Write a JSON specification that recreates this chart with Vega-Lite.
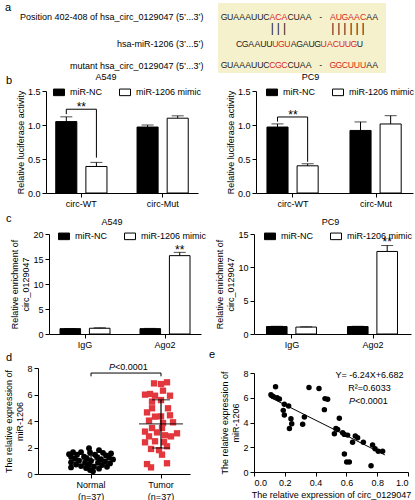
{
"$schema":"https://vega.github.io/schema/vega-lite/v6.json",
"padding":{"left":4,"top":2,"right":0,"bottom":0},
"spacing":0,
"config":{
 "font":"Liberation Sans",
 "view":{"stroke":null},
 "axis":{"labelFont":"Liberation Sans","titleFont":"Liberation Sans","labelFontSize":9,"titleFontSize":9,"labelColor":"#000","titleColor":"#000","domainColor":"#000","tickColor":"#000","grid":false,"titleFontWeight":"normal","tickSize":4,"labelPadding":2,"titlePadding":2,"labelOverlap":false,"labelLimit":400},
 "legend":{"labelFont":"Liberation Sans","labelFontSize":9,"labelColor":"#000"},
 "title":{"font":"Liberation Sans","fontSize":9,"fontWeight":"normal","color":"#000","baseline":"alphabetic"},
 "text":{"font":"Liberation Sans","color":"#000"}
},
"datasets":{
 "seq":[
  {"ln":"l1","col":0,"ch":"G","hl":"n"},{"ln":"l1","col":1,"ch":"U","hl":"n"},{"ln":"l1","col":2,"ch":"A","hl":"n"},{"ln":"l1","col":3,"ch":"A","hl":"n"},{"ln":"l1","col":4,"ch":"A","hl":"n"},{"ln":"l1","col":5,"ch":"U","hl":"n"},{"ln":"l1","col":6,"ch":"U","hl":"n"},{"ln":"l1","col":7,"ch":"C","hl":"n"},{"ln":"l1","col":8,"ch":"A","hl":"r"},{"ln":"l1","col":9,"ch":"C","hl":"r"},{"ln":"l1","col":10,"ch":"A","hl":"r"},{"ln":"l1","col":11,"ch":"C","hl":"n"},{"ln":"l1","col":12,"ch":"U","hl":"n"},{"ln":"l1","col":13,"ch":"A","hl":"n"},{"ln":"l1","col":14,"ch":"A","hl":"n"},{"ln":"l1","col":16,"ch":"-","hl":"n"},{"ln":"l1","col":18,"ch":"A","hl":"r"},{"ln":"l1","col":19,"ch":"U","hl":"r"},{"ln":"l1","col":20,"ch":"G","hl":"r"},{"ln":"l1","col":21,"ch":"A","hl":"r"},{"ln":"l1","col":22,"ch":"A","hl":"r"},{"ln":"l1","col":23,"ch":"C","hl":"r"},{"ln":"l1","col":24,"ch":"A","hl":"n"},{"ln":"l1","col":25,"ch":"A","hl":"n"},
  {"ln":"l3","col":2.5,"ch":"C","hl":"n"},{"ln":"l3","col":3.5,"ch":"G","hl":"n"},{"ln":"l3","col":4.5,"ch":"A","hl":"n"},{"ln":"l3","col":5.5,"ch":"A","hl":"n"},{"ln":"l3","col":6.5,"ch":"U","hl":"n"},{"ln":"l3","col":7.5,"ch":"U","hl":"n"},{"ln":"l3","col":8.5,"ch":"U","hl":"r"},{"ln":"l3","col":9.5,"ch":"G","hl":"r"},{"ln":"l3","col":10.5,"ch":"U","hl":"r"},{"ln":"l3","col":11.5,"ch":"A","hl":"n"},{"ln":"l3","col":12.5,"ch":"G","hl":"n"},{"ln":"l3","col":13.5,"ch":"A","hl":"n"},{"ln":"l3","col":14.5,"ch":"U","hl":"n"},{"ln":"l3","col":15.5,"ch":"G","hl":"n"},{"ln":"l3","col":16.5,"ch":"U","hl":"r"},{"ln":"l3","col":17.5,"ch":"A","hl":"r"},{"ln":"l3","col":18.5,"ch":"C","hl":"r"},{"ln":"l3","col":19.5,"ch":"U","hl":"r"},{"ln":"l3","col":20.5,"ch":"U","hl":"r"},{"ln":"l3","col":21.5,"ch":"G","hl":"r"},{"ln":"l3","col":22.5,"ch":"U","hl":"n"},
  {"ln":"l4","col":0,"ch":"G","hl":"n"},{"ln":"l4","col":1,"ch":"U","hl":"n"},{"ln":"l4","col":2,"ch":"A","hl":"n"},{"ln":"l4","col":3,"ch":"A","hl":"n"},{"ln":"l4","col":4,"ch":"A","hl":"n"},{"ln":"l4","col":5,"ch":"U","hl":"n"},{"ln":"l4","col":6,"ch":"U","hl":"n"},{"ln":"l4","col":7,"ch":"C","hl":"n"},{"ln":"l4","col":8,"ch":"C","hl":"r"},{"ln":"l4","col":9,"ch":"G","hl":"r"},{"ln":"l4","col":10,"ch":"C","hl":"r"},{"ln":"l4","col":11,"ch":"C","hl":"n"},{"ln":"l4","col":12,"ch":"U","hl":"n"},{"ln":"l4","col":13,"ch":"A","hl":"n"},{"ln":"l4","col":14,"ch":"A","hl":"n"},{"ln":"l4","col":16,"ch":"-","hl":"n"},{"ln":"l4","col":18,"ch":"G","hl":"r"},{"ln":"l4","col":19,"ch":"G","hl":"r"},{"ln":"l4","col":20,"ch":"C","hl":"r"},{"ln":"l4","col":21,"ch":"U","hl":"r"},{"ln":"l4","col":22,"ch":"U","hl":"r"},{"ln":"l4","col":23,"ch":"U","hl":"r"},{"ln":"l4","col":24,"ch":"A","hl":"n"},{"ln":"l4","col":25,"ch":"A","hl":"n"}
 ],
 "pairs":[{"ln":"bars","col":8,"ch":"|"},{"ln":"bars","col":9,"ch":"|"},{"ln":"bars","col":10,"ch":"|"},{"ln":"bars","col":18,"ch":"|"},{"ln":"bars","col":19,"ch":"|"},{"ln":"bars","col":20,"ch":"|"},{"ln":"bars","col":21,"ch":"|"},{"ln":"bars","col":22,"ch":"|"},{"ln":"bars","col":23,"ch":"|"}],
 "bLv":[{"g":"circ-WT","t":"miR-NC","v":1.05,"hi":1.12},{"g":"circ-WT","t":"miR-1206 mimic","v":0.39,"hi":0.45},{"g":"circ-Mut","t":"miR-NC","v":0.97,"hi":1.0},{"g":"circ-Mut","t":"miR-1206 mimic","v":1.1,"hi":1.135}],
 "bLbr":[{"g":"circ-WT","t":"miR-NC","y":1.16,"o":1},{"g":"circ-WT","t":"miR-NC","y":1.232,"o":2},{"g":"circ-WT","t":"miR-1206 mimic","y":1.232,"o":3},{"g":"circ-WT","t":"miR-1206 mimic","y":0.52,"o":4}],
 "bLst":[{"g":"circ-WT","y":1.232}],
 "bRv":[{"g":"circ-WT","t":"miR-NC","v":0.97,"hi":1.016},{"g":"circ-WT","t":"miR-1206 mimic","v":0.4,"hi":0.43},{"g":"circ-Mut","t":"miR-NC","v":0.92,"hi":1.045},{"g":"circ-Mut","t":"miR-1206 mimic","v":1.015,"hi":1.137}],
 "bRbr":[{"g":"circ-WT","t":"miR-NC","y":1.05,"o":1},{"g":"circ-WT","t":"miR-NC","y":1.118,"o":2},{"g":"circ-WT","t":"miR-1206 mimic","y":1.118,"o":3},{"g":"circ-WT","t":"miR-1206 mimic","y":0.46,"o":4}],
 "bRst":[{"g":"circ-WT","y":1.118}],
 "cLv":[{"g":"IgG","t":"miR-NC","v":1.07,"hi":1.12},{"g":"IgG","t":"miR-1206 mimic","v":1.15,"hi":1.25},{"g":"Ago2","t":"miR-NC","v":1.07,"hi":1.12},{"g":"Ago2","t":"miR-1206 mimic","v":15.67,"hi":16.33}],
 "cLst":[{"g":"Ago2","t":"miR-1206 mimic","y":16.33}],
 "cRv":[{"g":"IgG","t":"miR-NC","v":1.12,"hi":1.16},{"g":"IgG","t":"miR-1206 mimic","v":1.04,"hi":1.08},{"g":"Ago2","t":"miR-NC","v":1.12,"hi":1.16},{"g":"Ago2","t":"miR-1206 mimic","v":12.38,"hi":13.27}],
 "cRst":[{"g":"Ago2","t":"miR-1206 mimic","y":13.27}],
 "dN":[{"grp":"Normal","jit":-2,"v":1.95},{"grp":"Normal","jit":8,"v":1.8},{"grp":"Normal","jit":-18,"v":1.65},{"grp":"Normal","jit":-10,"v":1.65},{"grp":"Normal","jit":-1,"v":1.62},{"grp":"Normal","jit":12,"v":1.6},{"grp":"Normal","jit":20,"v":1.55},{"grp":"Normal","jit":-22,"v":1.5},{"grp":"Normal","jit":-14,"v":1.45},{"grp":"Normal","jit":4,"v":1.45},{"grp":"Normal","jit":15,"v":1.4},{"grp":"Normal","jit":-20,"v":1.3},{"grp":"Normal","jit":-7,"v":1.3},{"grp":"Normal","jit":6,"v":1.28},{"grp":"Normal","jit":18,"v":1.25},{"grp":"Normal","jit":-16,"v":1.15},{"grp":"Normal","jit":-4,"v":1.15},{"grp":"Normal","jit":10,"v":1.12},{"grp":"Normal","jit":22,"v":1.1},{"grp":"Normal","jit":-12,"v":1.0},{"grp":"Normal","jit":0,"v":0.98},{"grp":"Normal","jit":14,"v":0.95},{"grp":"Normal","jit":-20,"v":0.88},{"grp":"Normal","jit":-6,"v":0.85},{"grp":"Normal","jit":7,"v":0.85},{"grp":"Normal","jit":19,"v":0.8},{"grp":"Normal","jit":-15,"v":0.72},{"grp":"Normal","jit":-2,"v":0.7},{"grp":"Normal","jit":11,"v":0.68},{"grp":"Normal","jit":-10,"v":0.6},{"grp":"Normal","jit":3,"v":0.55},{"grp":"Normal","jit":16,"v":0.55},{"grp":"Normal","jit":-20,"v":0.5},{"grp":"Normal","jit":-5,"v":0.45},{"grp":"Normal","jit":8,"v":0.4},{"grp":"Normal","jit":-1,"v":0.3},{"grp":"Normal","jit":2,"v":0.2}],
 "dT":[{"grp":"Tumor","jit":-7,"v":6.84},{"grp":"Tumor","jit":0,"v":6.79},{"grp":"Tumor","jit":6,"v":6.92},{"grp":"Tumor","jit":2,"v":6.29},{"grp":"Tumor","jit":-16,"v":5.99},{"grp":"Tumor","jit":-11,"v":6.04},{"grp":"Tumor","jit":-6,"v":5.91},{"grp":"Tumor","jit":9,"v":5.91},{"grp":"Tumor","jit":-9,"v":5.46},{"grp":"Tumor","jit":0,"v":5.58},{"grp":"Tumor","jit":-9,"v":4.96},{"grp":"Tumor","jit":7,"v":4.96},{"grp":"Tumor","jit":-14,"v":4.65},{"grp":"Tumor","jit":-6,"v":4.33},{"grp":"Tumor","jit":0,"v":4.35},{"grp":"Tumor","jit":9,"v":4.43},{"grp":"Tumor","jit":-12,"v":4.03},{"grp":"Tumor","jit":2,"v":3.85},{"grp":"Tumor","jit":12,"v":3.9},{"grp":"Tumor","jit":-9,"v":3.47},{"grp":"Tumor","jit":1,"v":3.47},{"grp":"Tumor","jit":-16,"v":3.2},{"grp":"Tumor","jit":-4,"v":3.14},{"grp":"Tumor","jit":16,"v":3.07},{"grp":"Tumor","jit":-12,"v":2.84},{"grp":"Tumor","jit":4,"v":2.92},{"grp":"Tumor","jit":10,"v":2.84},{"grp":"Tumor","jit":-6,"v":2.47},{"grp":"Tumor","jit":3,"v":2.4},{"grp":"Tumor","jit":-16,"v":2.39},{"grp":"Tumor","jit":6,"v":2.09},{"grp":"Tumor","jit":-10,"v":1.89},{"grp":"Tumor","jit":-2,"v":1.8},{"grp":"Tumor","jit":1,"v":1.46},{"grp":"Tumor","jit":-14,"v":0.75},{"grp":"Tumor","jit":6,"v":0.81},{"grp":"Tumor","jit":-10,"v":0.5}],
 "dsum":[{"grp":"Normal","m":1.06,"lo":0.72,"hi":1.4},{"grp":"Tumor","m":3.78,"lo":1.96,"hi":5.6}],
 "dbr":[{"grp":"Normal","y":7.37,"o":1},{"grp":"Normal","y":7.62,"o":2},{"grp":"Tumor","y":7.62,"o":3},{"grp":"Tumor","y":7.37,"o":4}],
 "epts":[{"x":0.11,"y":6.25},{"x":0.125,"y":6.1},{"x":0.15,"y":6.0},{"x":0.165,"y":5.9},{"x":0.14,"y":6.88},{"x":0.197,"y":5.47},{"x":0.19,"y":4.98},{"x":0.197,"y":4.61},{"x":0.225,"y":5.34},{"x":0.24,"y":4.31},{"x":0.23,"y":3.52},{"x":0.245,"y":3.9},{"x":0.316,"y":3.85},{"x":0.327,"y":4.44},{"x":0.357,"y":6.83},{"x":0.422,"y":6.75},{"x":0.457,"y":5.04},{"x":0.461,"y":5.93},{"x":0.478,"y":5.88},{"x":0.554,"y":4.34},{"x":0.522,"y":3.09},{"x":0.532,"y":3.52},{"x":0.543,"y":3.44},{"x":0.576,"y":3.17},{"x":0.587,"y":3.04},{"x":0.608,"y":2.98},{"x":0.64,"y":2.41},{"x":0.658,"y":2.9},{"x":0.673,"y":2.76},{"x":0.587,"y":1.46},{"x":0.602,"y":0.81},{"x":0.619,"y":0.81},{"x":0.76,"y":0.51},{"x":0.71,"y":2.41},{"x":0.77,"y":2.19},{"x":0.786,"y":1.87},{"x":0.807,"y":1.68},{"x":0.835,"y":1.68}],
 "eline":[{"x":0.1,"y":6.06},{"x":0.85,"y":1.38}]
},
"vconcat":[
 {
  "bounds":"flush","spacing":179,
  "title":{"text":"a","anchor":"start","frame":"group","dx":-33,"dy":10,"offset":0,"fontSize":11},
  "hconcat":[
   {"width":1,"height":70,"data":{"values":[]},"mark":"point"},
   {"width":168,"height":70,"view":{"fill":"#f6f1cd","stroke":null},
    "layer":[
     {"data":{"name":"seq"},"mark":{"type":"text","fontSize":8.7,"baseline":"middle"},
      "encoding":{
       "x":{"field":"col","type":"quantitative","scale":{"domain":[-1,26.8],"nice":false,"zero":false},"axis":null},
       "y":{"field":"ln","type":"ordinal","scale":{"type":"point","domain":["l1","g1","bars","g2","g3","l3","g4","g5","g6","l4"],"range":[11,65]},"axis":{"title":null,"values":["l1","l3","l4"],"labelExpr":"datum.value == 'l1' ? 'Position 402-408 of hsa_circ_0129047 (5’...3’)' : datum.value == 'l3' ? 'hsa-miR-1206 (3’...5’)' : datum.value == 'l4' ? 'mutant hsa_circ_0129047 (5’...3’)' : ''","ticks":false,"domain":false,"labelPadding":15,"labelOverlap":false,"labelLimit":400}},
       "text":{"field":"ch"},
       "color":{"field":"hl","type":"nominal","scale":{"domain":["n","r"],"range":["#1a1a1a","#d8261d"]},"legend":null}
      }},
     {"data":{"name":"pairs"},"mark":{"type":"text","fontSize":12,"baseline":"middle","color":"#1a1a1a"},
      "encoding":{"x":{"field":"col","type":"quantitative"},"y":{"field":"ln","type":"ordinal"},"text":{"field":"ch"}}}
    ]}
  ]
 },
 {
  "bounds":"flush","spacing":7,
  "resolve":{"scale":{"fill":"independent","x":"independent","y":"independent"},"legend":{"fill":"independent"}},
  "title":{"text":"b","anchor":"start","frame":"group","dx":-32,"dy":13,"offset":0,"fontSize":11},
  "hconcat":[
   {"width":1,"height":122,"data":{"values":[]},"mark":"point"},
   {"width":152,"height":102,
    "title":{"text":"A549","dx":-16,"offset":4},
    "resolve":{"axis":{"y":"independent"}},
    "encoding":{"x":{"field":"g","type":"nominal","scale":{"domain":["circ-WT","circ-Mut"],"paddingInner":0.37,"paddingOuter":0.12},"axis":{"title":null,"labelAngle":0,"labelOverlap":false}}},
    "layer":[
     {"data":{"name":"bLv"},"mark":{"type":"bar","stroke":"#000","strokeWidth":1},
      "encoding":{
       "xOffset":{"field":"t","type":"nominal","scale":{"domain":["miR-NC","miR-1206 mimic"],"paddingInner":0.3,"paddingOuter":0}},
       "y":{"field":"v","type":"quantitative","title":"Relative luciferase activity","scale":{"domain":[0,1.5],"nice":false},"axis":{"values":[0,0.5,1,1.5],"format":".1f","labelOverlap":false}},
       "fill":{"field":"t","type":"nominal","scale":{"domain":["miR-NC","miR-1206 mimic"],"range":["#000000","#ffffff"]},"legend":{"orient":"none","legendX":7,"legendY":-5,"direction":"horizontal","title":null,"symbolType":"M-1,-0.6H1V0.6H-1Z","symbolSize":121,"symbolStrokeColor":"#000","symbolStrokeWidth":1,"labelOffset":5,"columnPadding":15,"padding":0}}}},
     {"data":{"name":"bLv"},"mark":{"type":"rule","color":"#000","strokeWidth":1},
      "encoding":{"xOffset":{"field":"t","type":"nominal"},"y":{"field":"v","type":"quantitative","axis":null},"y2":{"field":"hi"}}},
     {"data":{"name":"bLv"},"mark":{"type":"tick","color":"#000","size":12,"thickness":1},
      "encoding":{"xOffset":{"field":"t","type":"nominal"},"y":{"field":"hi","type":"quantitative","axis":null}}},
     {"data":{"name":"bLbr"},"mark":{"type":"line","color":"#000","strokeWidth":1},
      "encoding":{"xOffset":{"field":"t","type":"nominal"},"y":{"field":"y","type":"quantitative","axis":null},"order":{"field":"o","type":"quantitative"}}},
     {"data":{"name":"bLst"},"mark":{"type":"text","text":"**","fontSize":12,"baseline":"alphabetic","dy":2},
      "encoding":{"y":{"field":"y","type":"quantitative","axis":null}}}
    ]},
   {"width":44,"height":1,"data":{"values":[]},"mark":"point"},
   {"width":157,"height":102,
    "title":{"text":"PC9","dx":-24,"offset":4},
    "resolve":{"axis":{"y":"independent"}},
    "encoding":{"x":{"field":"g","type":"nominal","scale":{"domain":["circ-WT","circ-Mut"],"paddingInner":0.373,"paddingOuter":0.132},"axis":{"title":null,"labelAngle":0,"labelOverlap":false}}},
    "layer":[
     {"data":{"name":"bRv"},"mark":{"type":"bar","stroke":"#000","strokeWidth":1},
      "encoding":{
       "xOffset":{"field":"t","type":"nominal","scale":{"domain":["miR-NC","miR-1206 mimic"],"paddingInner":0.3,"paddingOuter":0}},
       "y":{"field":"v","type":"quantitative","title":"Relative luciferase activity","scale":{"domain":[0,1.5],"nice":false},"axis":{"values":[0,0.5,1,1.5],"format":".1f","labelOverlap":false}},
       "fill":{"field":"t","type":"nominal","scale":{"domain":["miR-NC","miR-1206 mimic"],"range":["#000000","#ffffff"]},"legend":{"orient":"none","legendX":10,"legendY":-5,"direction":"horizontal","title":null,"symbolType":"M-1,-0.6H1V0.6H-1Z","symbolSize":121,"symbolStrokeColor":"#000","symbolStrokeWidth":1,"labelOffset":5,"columnPadding":15,"padding":0}}}},
     {"data":{"name":"bRv"},"mark":{"type":"rule","color":"#000","strokeWidth":1},
      "encoding":{"xOffset":{"field":"t","type":"nominal"},"y":{"field":"v","type":"quantitative","axis":null},"y2":{"field":"hi"}}},
     {"data":{"name":"bRv"},"mark":{"type":"tick","color":"#000","size":12,"thickness":1},
      "encoding":{"xOffset":{"field":"t","type":"nominal"},"y":{"field":"hi","type":"quantitative","axis":null}}},
     {"data":{"name":"bRbr"},"mark":{"type":"line","color":"#000","strokeWidth":1},
      "encoding":{"xOffset":{"field":"t","type":"nominal"},"y":{"field":"y","type":"quantitative","axis":null},"order":{"field":"o","type":"quantitative"}}},
     {"data":{"name":"bRst"},"mark":{"type":"text","text":"**","fontSize":12,"baseline":"alphabetic","dy":2},
      "encoding":{"y":{"field":"y","type":"quantitative","axis":null}}}
    ]}
  ]
 },
 {
  "bounds":"flush","spacing":7,
  "resolve":{"scale":{"fill":"independent","x":"independent","y":"independent"},"legend":{"fill":"independent"}},
  "title":{"text":"c","anchor":"start","frame":"group","dx":-32,"dy":6,"offset":0,"fontSize":11},
  "hconcat":[
   {"width":4,"height":114,"data":{"values":[]},"mark":"point"},
   {"width":152,"height":100,
    "title":{"text":"A549","dx":-13,"offset":3},
    "resolve":{"axis":{"y":"independent"}},
    "encoding":{"x":{"field":"g","type":"nominal","scale":{"domain":["IgG","Ago2"],"paddingInner":0.375,"paddingOuter":0.1375},"axis":{"title":null,"labelAngle":0,"labelOverlap":false}}},
    "layer":[
     {"data":{"name":"cLv"},"mark":{"type":"bar","stroke":"#000","strokeWidth":1},
      "encoding":{
       "xOffset":{"field":"t","type":"nominal","scale":{"domain":["miR-NC","miR-1206 mimic"],"paddingInner":0.3,"paddingOuter":0}},
       "y":{"field":"v","type":"quantitative","title":["Relative enrichment of","circ_0129047"],"scale":{"domain":[0,20],"nice":false},"axis":{"values":[0,5,10,15,20],"labelOverlap":false}},
       "fill":{"field":"t","type":"nominal","scale":{"domain":["miR-NC","miR-1206 mimic"],"range":["#000000","#ffffff"]},"legend":{"orient":"none","legendX":9,"legendY":-4,"direction":"horizontal","title":null,"symbolType":"M-1,-0.6H1V0.6H-1Z","symbolSize":121,"symbolStrokeColor":"#000","symbolStrokeWidth":1,"labelOffset":5,"columnPadding":15,"padding":0}}}},
     {"data":{"name":"cLv"},"mark":{"type":"rule","color":"#000","strokeWidth":1},
      "encoding":{"xOffset":{"field":"t","type":"nominal"},"y":{"field":"v","type":"quantitative","axis":null},"y2":{"field":"hi"}}},
     {"data":{"name":"cLv"},"mark":{"type":"tick","color":"#000","size":12,"thickness":1},
      "encoding":{"xOffset":{"field":"t","type":"nominal"},"y":{"field":"hi","type":"quantitative","axis":null}}},
     {"data":{"name":"cLst"},"mark":{"type":"text","text":"**","fontSize":12,"baseline":"alphabetic","dy":1.5},
      "encoding":{"xOffset":{"field":"t","type":"nominal"},"y":{"field":"y","type":"quantitative","axis":null}}}
    ]},
   {"width":39,"height":1,"data":{"values":[]},"mark":"point"},
   {"width":157,"height":100,
    "title":{"text":"PC9","dx":-2,"offset":3},
    "resolve":{"axis":{"y":"independent"}},
    "encoding":{"x":{"field":"g","type":"nominal","scale":{"domain":["IgG","Ago2"],"paddingInner":0.37,"paddingOuter":0.154},"axis":{"title":null,"labelAngle":0,"labelOverlap":false}}},
    "layer":[
     {"data":{"name":"cRv"},"mark":{"type":"bar","stroke":"#000","strokeWidth":1},
      "encoding":{
       "xOffset":{"field":"t","type":"nominal","scale":{"domain":["miR-NC","miR-1206 mimic"],"paddingInner":0.3,"paddingOuter":0}},
       "y":{"field":"v","type":"quantitative","title":["Relative enrichment of","circ_0129047"],"scale":{"domain":[0,15],"nice":false},"axis":{"values":[0,5,10,15],"labelOverlap":false}},
       "fill":{"field":"t","type":"nominal","scale":{"domain":["miR-NC","miR-1206 mimic"],"range":["#000000","#ffffff"]},"legend":{"orient":"none","legendX":10,"legendY":-4,"direction":"horizontal","title":null,"symbolType":"M-1,-0.6H1V0.6H-1Z","symbolSize":121,"symbolStrokeColor":"#000","symbolStrokeWidth":1,"labelOffset":5,"columnPadding":15,"padding":0}}}},
     {"data":{"name":"cRv"},"mark":{"type":"rule","color":"#000","strokeWidth":1},
      "encoding":{"xOffset":{"field":"t","type":"nominal"},"y":{"field":"v","type":"quantitative","axis":null},"y2":{"field":"hi"}}},
     {"data":{"name":"cRv"},"mark":{"type":"tick","color":"#000","size":12,"thickness":1},
      "encoding":{"xOffset":{"field":"t","type":"nominal"},"y":{"field":"hi","type":"quantitative","axis":null}}},
     {"data":{"name":"cRst"},"mark":{"type":"text","text":"**","fontSize":12,"baseline":"alphabetic","dy":0.5},
      "encoding":{"xOffset":{"field":"t","type":"nominal"},"y":{"field":"y","type":"quantitative","axis":null}}}
    ]}
  ]
 },
 {
  "bounds":"flush","spacing":7,
  "resolve":{"scale":{"x":"independent","y":"independent","color":"independent"}},
  "hconcat":[
   {"width":152,"height":106,
    "title":{"text":"d","anchor":"start","frame":"group","dx":-32,"offset":0,"fontSize":11},
    "resolve":{"axis":{"y":"independent"}},
    "encoding":{"x":{"field":"grp","type":"nominal","scale":{"domain":["Normal","Tumor"],"paddingInner":0.286,"paddingOuter":0.229,"align":0.875},"axis":{"title":null,"labelAngle":0,"labelOverlap":false,"labelExpr":"datum.value == 'Normal' ? ['Normal','(n=37)'] : ['Tumor','(n=37)']","labelLineHeight":12}}},
    "layer":[
     {"data":{"name":"dN"},"mark":{"type":"circle","color":"#000","size":34,"opacity":1},
      "encoding":{"xOffset":{"field":"jit","type":"quantitative","scale":{"domain":[-25,25]}},
       "y":{"field":"v","type":"quantitative","title":["The relative expression of","miR-1206"],"scale":{"domain":[0,8],"nice":false},"axis":{"values":[0,2,4,6,8],"labelOverlap":false}}}},
     {"data":{"name":"dT"},"mark":{"type":"square","color":"#e2373d","size":40,"opacity":1},
      "encoding":{"xOffset":{"field":"jit","type":"quantitative","scale":{"domain":[-25,25]}},
       "y":{"field":"v","type":"quantitative","axis":null}}},
     {"data":{"name":"dsum"},"mark":{"type":"tick","color":"#000","size":44,"thickness":1.2},
      "encoding":{"y":{"field":"m","type":"quantitative","axis":null}}},
     {"data":{"name":"dsum"},"mark":{"type":"rule","color":"#000","strokeWidth":1.2},
      "encoding":{"y":{"field":"lo","type":"quantitative","axis":null},"y2":{"field":"hi"}}},
     {"data":{"name":"dsum"},"mark":{"type":"tick","color":"#000","size":18,"thickness":1.2},
      "encoding":{"y":{"field":"lo","type":"quantitative","axis":null}}},
     {"data":{"name":"dsum"},"mark":{"type":"tick","color":"#000","size":18,"thickness":1.2},
      "encoding":{"y":{"field":"hi","type":"quantitative","axis":null}}},
     {"data":{"name":"dbr"},"mark":{"type":"line","color":"#000","strokeWidth":1},
      "encoding":{"y":{"field":"y","type":"quantitative","axis":null},"order":{"field":"o","type":"quantitative"}}},
     {"data":{"values":[{"grp":"Normal","y":8.05}]},"mark":{"type":"text","text":"P","fontSize":9,"fontStyle":"italic","align":"left","baseline":"middle","dx":18},
      "encoding":{"y":{"field":"y","type":"quantitative","axis":null}}},
     {"data":{"values":[{"grp":"Normal","y":8.05}]},"mark":{"type":"text","text":"<0.0001","fontSize":9,"align":"left","baseline":"middle","dx":24},
      "encoding":{"y":{"field":"y","type":"quantitative","axis":null}}}
    ]},
   {"width":50,"height":1,"data":{"values":[]},"mark":"point"},
   {"width":154,"height":104,
    "title":{"text":"e","anchor":"start","frame":"group","dx":-45,"offset":8,"fontSize":11},
    "resolve":{"axis":{"x":"independent","y":"independent"}},
    "layer":[
     {"data":{"name":"epts"},"mark":{"type":"circle","color":"#000","size":30,"opacity":1},
      "encoding":{
       "x":{"field":"x","type":"quantitative","title":"The relative expression of circ_0129047","scale":{"domain":[0,1],"nice":false},"axis":{"values":[0,0.2,0.4,0.6,0.8,1],"format":".1f","titlePadding":3,"labelOverlap":false}},
       "y":{"field":"y","type":"quantitative","title":["The relative expression of","miR-1206"],"scale":{"domain":[0,8],"nice":false,"range":[104,5]},"axis":{"values":[0,2,4,6,8],"labelOverlap":false}}}},
     {"data":{"name":"eline"},"mark":{"type":"line","color":"#000","strokeWidth":1},
      "encoding":{"x":{"field":"x","type":"quantitative","axis":null},"y":{"field":"y","type":"quantitative","axis":null}}},
     {"data":{"values":[{"x":0.75,"y":7.83}]},"mark":{"type":"text","text":"Y= -6.24X+6.682","fontSize":9,"baseline":"middle"},
      "encoding":{"x":{"field":"x","type":"quantitative","axis":null},"y":{"field":"y","type":"quantitative","axis":null}}},
     {"data":{"values":[{"x":0.75,"y":6.75}]},"mark":{"type":"text","text":"R²=0.6033","fontSize":9,"baseline":"middle"},
      "encoding":{"x":{"field":"x","type":"quantitative","axis":null},"y":{"field":"y","type":"quantitative","axis":null}}},
     {"data":{"values":[{"x":0.74,"y":5.75}]},"mark":{"type":"text","text":"P","fontSize":9,"fontStyle":"italic","align":"left","baseline":"middle","dx":-19},
      "encoding":{"x":{"field":"x","type":"quantitative","axis":null},"y":{"field":"y","type":"quantitative","axis":null}}},
     {"data":{"values":[{"x":0.74,"y":5.75}]},"mark":{"type":"text","text":"<0.0001","fontSize":9,"align":"left","baseline":"middle","dx":-13},
      "encoding":{"x":{"field":"x","type":"quantitative","axis":null},"y":{"field":"y","type":"quantitative","axis":null}}}
    ]}
  ]
 }
]
}
